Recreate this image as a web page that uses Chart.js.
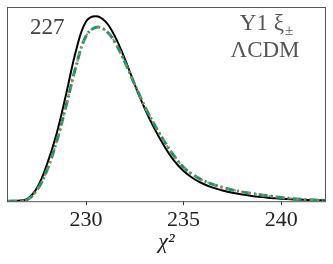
<!DOCTYPE html>
<html>
<head>
<meta charset="utf-8">
<script src="https://cdn.jsdelivr.net/npm/chart.js@4/dist/chart.umd.min.js"></script>
<style>
  html, body { margin: 0; padding: 0; background: #fff; }
  #wrap { width: 333px; height: 264px; }
</style>
</head>
<body>
<div id="wrap"><canvas id="chart"></canvas></div>
<script>
// chi^2 grid and the three distributions (arbitrary units, peak ~0.95)
let chi2 = [226, 226.5, 227, 227.5, 228, 228.5, 229, 229.5, 230, 230.5, 231, 231.5, 232, 232.5,
  233, 233.5, 234, 234.5, 235, 235.5, 236, 236.5, 237, 237.5, 238, 238.5, 239, 239.5,
  240, 240.5, 241, 241.5, 242, 242.5];
let blackVals = [0, 0.002, 0.012, 0.07, 0.19, 0.35, 0.56, 0.78, 0.925, 0.953, 0.925, 0.845, 0.73, 0.60,
  0.48, 0.375, 0.285, 0.21, 0.155, 0.117, 0.09, 0.07, 0.055, 0.043, 0.034, 0.027, 0.021, 0.017,
  0.013, 0.010, 0.008, 0.006, 0.005, 0.004];
let greenVals = [0, 0.002, 0.009, 0.06, 0.16, 0.31, 0.50, 0.70, 0.85, 0.895, 0.88, 0.815, 0.715, 0.60,
  0.49, 0.395, 0.31, 0.235, 0.175, 0.135, 0.107, 0.087, 0.071, 0.058, 0.048, 0.040, 0.032, 0.025,
  0.019, 0.014, 0.010, 0.007, 0.005, 0.004];
let orangeVals = greenVals.slice();
let xTicks = [230, 235, 240];

function pts(ys) {
  return chi2.map((x, i) => ({x: x, y: ys[i]}));
}

const serif = "'Liberation Serif', 'DejaVu Serif', serif";

const deco = {
  id: 'deco',
  afterDraw(chart) {
    const c = chart.ctx, a = chart.chartArea;
    c.save();
    c.strokeStyle = '#555';
    c.lineWidth = 1;
    c.strokeRect(a.left + 0.5, a.top + 0.5, a.right - a.left - 1, a.bottom - a.top);
    c.fillStyle = '#444';
    c.font = '23px ' + serif;
    c.textAlign = 'left';
    c.fillText('227', 30, 34);
    // Y1 xi_pm
    c.fillStyle = '#555';
    const t1 = 'Y1 ξ';
    const w1 = c.measureText(t1).width;
    c.font = '15px ' + serif;
    const w2 = c.measureText('±').width;
    const x0 = 266 - (w1 + w2) / 2;
    c.font = '23px ' + serif;
    c.fillText(t1, x0, 30);
    c.font = '15px ' + serif;
    c.fillText('±', x0 + w1 + 1, 35);
    c.font = '23px ' + serif;
    c.textAlign = 'center';
    c.fillText('ΛCDM', 265, 57);
    c.restore();
  }
};

new Chart(document.getElementById('chart').getContext('2d'), {
  type: 'line',
  data: {
    datasets: [
      { label: 'black', data: pts(blackVals), borderColor: '#000', borderWidth: 2, order: 3 },
      { label: 'green', data: pts(greenVals), borderColor: '#13967a', borderWidth: 3,
        borderDash: [9, 3, 2, 3], order: 2 },
      { label: 'orange', data: pts(orangeVals), borderColor: '#cc7a2e', borderWidth: 2,
        borderDash: [2, 5], order: 1 }
    ]
  },
  options: {
    responsive: true,
    maintainAspectRatio: false,
    animation: false,
    elements: { point: { radius: 0 }, line: { tension: 0.4, fill: false } },
    layout: { padding: { left: 7, right: 7, top: 7, bottom: 9 } },
    plugins: { legend: { display: false }, tooltip: { enabled: false } },
    scales: {
      x: {
        type: 'linear',
        min: 225.95,
        max: 242.3,
        afterBuildTicks: (s) => { s.ticks = xTicks.map(v => ({value: v})); },
        grid: { display: true, drawOnChartArea: false, tickLength: 4, color: '#333' },
        border: { display: false },
        ticks: { color: '#222', font: { family: serif, size: 22 }, padding: 2, maxRotation: 0 },
        title: { display: true, text: 'χ²', color: '#222',
          font: { family: serif, size: 22, style: 'italic' }, padding: { top: -7, bottom: 0 } }
      },
      y: { display: false, min: 0, max: 1 }
    }
  },
  plugins: [deco]
});
</script>
</body>
</html>
